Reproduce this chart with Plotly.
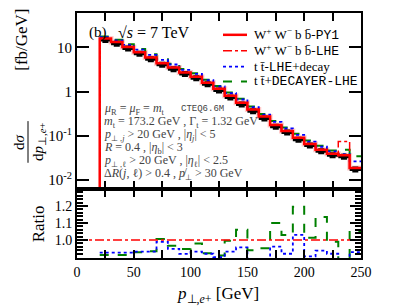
import plotly.graph_objects as go

# ---------------- data ----------------
bin_edges = [20, 30, 40, 50, 60, 70, 80, 90, 100, 110, 120, 130, 140, 150,
             160, 170, 180, 190, 200, 210, 220, 230, 240, 250]
bin_centers = [25, 35, 45, 55, 65, 75, 85, 95, 105, 115, 125, 135, 145, 155,
               165, 175, 185, 195, 205, 215, 225, 235, 245]

wwbb_py1 = [16.0, 13.2, 10.2, 7.8, 5.9, 4.4, 3.5, 2.7, 2.15, 1.58, 1.15, 0.80,
            0.56, 0.39, 0.27, 0.175, 0.128, 0.089, 0.065, 0.048, 0.039, 0.036, 0.0185]
wwbb_lhe = [16.0, 13.2, 10.2, 7.8, 5.9, 4.4, 3.5, 2.7, 2.15, 1.58, 1.15, 0.80,
            0.56, 0.39, 0.27, 0.175, 0.128, 0.089, 0.065, 0.048, 0.039, 0.074, 0.0185]
tt_lhe_decay = [17.0, 14.5, 11.4, 8.9, 6.8, 5.2, 4.1, 3.1, 2.5, 1.8, 1.3, 0.92,
                0.66, 0.44, 0.30, 0.205, 0.145, 0.104, 0.073, 0.056, 0.044, 0.038, 0.026]
tt_decayer_lhe = [17.6, 15.0, 11.8, 9.2, 7.0, 5.4, 4.25, 3.25, 2.6, 1.85, 1.33, 0.95,
                  0.69, 0.46, 0.31, 0.215, 0.152, 0.110, 0.078, 0.059, 0.046, 0.048, 0.034]
reference_pts = [14.7, 12.1, 9.4, 7.2, 5.4, 4.05, 3.2, 2.5, 2.0, 1.46, 1.06, 0.73,
                 0.51, 0.355, 0.245, 0.16, 0.117, 0.081, 0.060, 0.044, 0.036, 0.033, 0.017]

ratio_lhe = [1.0] * 23
ratio_tt_lhe_decay = [0.926, 0.926, 0.926, 0.932, 0.932, 0.99, 0.948, 0.919, 0.932, 0.92,
                      0.90, 0.932, 0.957, 0.88, 0.88, 0.962, 0.92, 1.03, 0.905, 0.938,
                      0.92, 0.88, 0.93]
ratio_tt_decayer = [0.913, 0.913, 0.913, 0.928, 0.935, 1.006, 0.967, 0.948, 0.98, 0.923,
                    0.91, 0.996, 1.06, 0.94, 0.952, 1.10, 1.03, 1.195, 1.014, 1.135,
                    0.99, 0.88, 1.054]

x_ticks = [0, 25, 50, 75, 100, 125, 150, 175, 200, 225, 250]
x_ticktext = ["0", "", "50", "", "100", "", "150", "", "200", "", "250"]
y_ticks = [0.01, 0.1, 1, 10]
y_ticktext = ["10<sup>-2</sup>", "10<sup>-1</sup>", "1", "10"]
r_ticks = [0.9, 1.0, 1.1, 1.2, 1.3]
r_ticktext = ["", "1.0", "1.1", "1.2", ""]

RED = "#ff0000"
BLUE = "#0000ff"
GREEN = "#008000"
SERIF = "Liberation Serif"
MONO = "Liberation Mono"

def stepy(v):
    return list(v) + [v[-1]]

fig = go.Figure()

# main panel
fig.add_trace(go.Scatter(x=bin_edges, y=stepy(wwbb_py1),
                         mode="lines", line=dict(color="rgba(255,0,0,0.2)", width=5, shape="hv"),
                         xaxis="x", yaxis="y", showlegend=False, hoverinfo="skip"))
fig.add_trace(go.Scatter(x=bin_edges, y=stepy(tt_decayer_lhe), mode="lines",
                         line=dict(color=GREEN, width=2, dash="dash", shape="hv"),
                         xaxis="x", yaxis="y", showlegend=False))
fig.add_trace(go.Scatter(x=bin_edges, y=stepy(tt_lhe_decay), mode="lines",
                         line=dict(color=BLUE, width=1.8, dash="dot", shape="hv"),
                         xaxis="x", yaxis="y", showlegend=False))
fig.add_trace(go.Scatter(x=bin_edges, y=stepy(wwbb_lhe), mode="lines",
                         line=dict(color=RED, width=1.5, dash="dashdot", shape="hv"),
                         xaxis="x", yaxis="y", showlegend=False))
fig.add_trace(go.Scatter(x=bin_centers, y=reference_pts, mode="markers",
                         marker=dict(symbol="square", size=6, color="black"),
                         error_x=dict(type="constant", value=5, thickness=3, width=0, color="black"),
                         xaxis="x", yaxis="y", showlegend=False))
fig.add_trace(go.Scatter(x=[bin_edges[0]] + bin_edges, y=[1e-4] + stepy(wwbb_py1), mode="lines",
                         line=dict(color=RED, width=2.5, shape="hv"),
                         xaxis="x", yaxis="y", showlegend=False))

# ratio panel
fig.add_trace(go.Scatter(x=bin_edges, y=stepy(ratio_tt_decayer), mode="lines",
                         line=dict(color=GREEN, width=2, dash="dash", shape="hv"),
                         xaxis="x2", yaxis="y2", showlegend=False))
fig.add_trace(go.Scatter(x=bin_edges, y=stepy(ratio_tt_lhe_decay), mode="lines",
                         line=dict(color=BLUE, width=1.8, dash="dot", shape="hv"),
                         xaxis="x2", yaxis="y2", showlegend=False))
fig.add_trace(go.Scatter(x=[0] + bin_edges, y=[1.0] + stepy(ratio_lhe), mode="lines",
                         line=dict(color=RED, width=1.5, dash="dashdot", shape="hv"),
                         xaxis="x2", yaxis="y2", showlegend=False))

# page offset of the figure inside the browser (default body margin)
OFF = 8
W, H = 399, 300
L, R, T, B = 77 - OFF, 46, 11 - OFF, 50
PW, PH = W - L - R, H - T - B
split = 70 / PH

def px(xs):
    return (xs - OFF - L) / PW

def py(ys):
    return (H - B - (ys - OFF)) / PH

axis_common = dict(showline=True, linewidth=2, linecolor="black", mirror="allticks",
                   ticks="inside", tickcolor="black", tickwidth=2, showgrid=False,
                   zeroline=False, tickfont=dict(family=SERIF, size=14, color="black"))

fig.update_layout(
    width=W, height=H, margin=dict(l=L, r=R, t=T, b=B),
    paper_bgcolor="white", plot_bgcolor="white", showlegend=False,
    xaxis=dict(axis_common, range=[0, 250], domain=[0, 1], anchor="y",
               tickvals=x_ticks, ticktext=[""] * len(x_ticks), ticklen=8),
    yaxis=dict(axis_common, type="log", range=[-2.2, 1.78], domain=[split, 1], anchor="x",
               tickvals=y_ticks, ticktext=y_ticktext, ticklen=12,
               tickfont=dict(family=SERIF, size=15, color="black")),
    xaxis2=dict(axis_common, range=[0, 250], domain=[0, 1], anchor="y2", matches="x",
                tickvals=x_ticks, ticktext=x_ticktext, ticklen=8),
    yaxis2=dict(axis_common, range=[0.895, 1.302], domain=[0, split], anchor="x2",
                tickvals=r_ticks, ticktext=r_ticktext, ticklen=11,
                minor=dict(dtick=0.02, ticks="inside", ticklen=6, tickcolor="black", tickwidth=1.5)),
)

ann = []
def A(text, x, y, size=11, xanchor="left", yanchor="middle", angle=0, color="black", family=SERIF):
    ann.append(dict(text=text, x=x, y=y, xref="paper", yref="paper", showarrow=False,
                    xanchor=xanchor, yanchor=yanchor, textangle=angle,
                    font=dict(family=family, size=size, color=color)))

# top-left labels
A("(b)", px(87), py(31), size=15)
A("√<i>s</i> = 7 TeV", px(116), py(31), size=16)

# info text
info_color = "#444444"
info = [
    "<i>μ</i><sub>R</sub> = <i>μ</i><sub>F</sub> = <i>m</i><sub>t</sub>",
    "<i>m</i><sub>t</sub> = 173.2 GeV , Γ<sub>t</sub> = 1.32 GeV",
    "<i>p</i><sub>⊥ ,<i>j</i></sub> > 20 GeV , |<i>η</i><sub><i>j</i></sub>| < 5",
    "<i>R</i> = 0.4 , |<i>η</i><sub>b</sub>| < 3",
    "<i>p</i><sub>⊥ ,ℓ</sub> > 20 GeV , |<i>η</i><sub>ℓ</sub>| < 2.5",
    "Δ<i>R</i>(<i>j</i>, ℓ) > 0.4 , <i>p̸</i><sub>⊥</sub> > 30 GeV",
]
for i, t in enumerate(info):
    A(t, px(102), py(108 + 13 * i), size=12, color=info_color)
A("CTEQ6.6M", px(179), py(108), size=9, color=info_color, family=MONO)

# manual legend
mono = "<span style='font-family:Liberation Mono'>%s</span>"
leg = [
    ("W<sup>+</sup> W<sup>−</sup> b b̄-" + mono % "PY1", RED, "solid", 2.5, 33),
    ("W<sup>+</sup> W<sup>−</sup> b b̄-" + mono % "LHE", RED, "dashdot", 1.5, 49),
    ("t t̄-" + mono % "LHE" + "+decay", BLUE, "dot", 1.8, 65),
    ("t t̄+" + mono % "DECAYER-LHE", GREEN, "dash", 2, 80),
]
shapes = []
for text, col, dash, w, yy in leg:
    A(text, px(252), py(yy), size=13)
    shapes.append(dict(type="line", xref="paper", yref="paper", x0=px(223), x1=px(247),
                       y0=py(yy), y1=py(yy), line=dict(color=col, width=w, dash=dash)))

# axis titles
A("<i>p</i><sub>⊥,<i>e</i>+</sub> [GeV]", px(218), py(295), size=17, xanchor="center")
A("Ratio", px(38), py(224), size=17, xanchor="center", angle=-90)
A("[fb/GeV]", px(22), py(38), size=17, xanchor="center", angle=-90)
A("d<i>σ</i>", px(19), py(141), size=15, xanchor="center", angle=-90)
A("d<i>p</i><sub>⊥,<i>e</i>+</sub>", px(39), py(141), size=15, xanchor="center", angle=-90)
shapes.append(dict(type="line", xref="paper", yref="paper", x0=px(28), x1=px(28),
                   y0=py(120), y1=py(162), line=dict(color="black", width=1)))

fig.update_layout(annotations=ann, shapes=shapes)
fig.write_html("out.html")
